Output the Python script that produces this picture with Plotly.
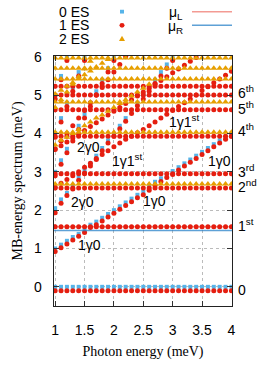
import plotly.graph_objects as go

# ---------------- data ----------------
photon_energy = [1.0, 1.1, 1.2, 1.3, 1.4, 1.5, 1.6, 1.7, 1.8, 1.9, 2.0,
                 2.1, 2.2, 2.3, 2.4, 2.5, 2.6, 2.7, 2.8, 2.9, 3.0,
                 3.1, 3.2, 3.3, 3.4, 3.5, 3.6, 3.7, 3.8, 3.9, 4.0]

# flat many-body levels (meV), present at every photon energy
levels_0es = [0.00]
levels_1es = [-0.10, 1.57, 2.58, 2.95, 3.93, 4.62, 5.00, 5.23]
levels_2es = [2.68, 4.03, 4.82, 5.42, 5.70, 5.97]

# photon-replica branches: values start at photon energy 1.0, step 0.1
branches_0es = {
    "1g0": [1.00, 1.10, 1.20, 1.30, 1.38, 1.47, 1.62, 1.70, 1.80, 1.90, 2.00,
            2.10, 2.20, 2.30, 2.40, 2.48, 2.63, 2.74, 2.83, 2.90, 3.02,
            3.12, 3.22, 3.32, 3.42, 3.52, 3.62, 3.72, 3.82, 3.92, 4.00],
    "2g0": [2.05, 2.28, 2.45, 2.63, 2.85, 3.05, 3.22, 3.42, 3.62, 3.82, 3.98,
            4.20, 4.40, 4.60, 4.80, 5.00, 5.20, 5.40, 5.60, 5.80, 6.00],
    "3g0": [3.00, 3.30, 3.60, 3.90, 4.20, 4.50, 4.80, 5.10, 5.40, 5.70, 6.00],
    "4g0": [4.00, 4.40, 4.80, 5.20, 5.60, 6.00],
    "5g0": [5.00, 5.50, 6.00],
}
branches_1es = {
    "1g0": [0.92, 1.02, 1.12, 1.22, 1.32, 1.42, 1.55, 1.62, 1.72, 1.82, 1.92,
            2.02, 2.12, 2.22, 2.32, 2.40, 2.52, 2.65, 2.75, 2.85, 2.93,
            3.05, 3.15, 3.25, 3.35, 3.45, 3.55, 3.65, 3.75, 3.85, 3.93],
    "2g0": [1.93, 2.18, 2.38, 2.55, 2.78, 2.97, 3.15, 3.35, 3.55, 3.75, 3.93,
            4.12, 4.32, 4.52, 4.72, 4.90, 5.10, 5.30, 5.50, 5.70, 5.90],
    "3g0": [2.90, 3.20, 3.50, 3.80, 4.10, 4.40, 4.70, 5.00, 5.30, 5.60, 5.90],
    "4g0": [3.90, 4.30, 4.70, 5.10, 5.50, 5.90],
    "5g0": [4.90, 5.40, 5.90],
    "1g1st": [2.60, 2.70, 2.80, 2.90, 3.00, 3.12, 3.22, 3.32, 3.45, 3.55, 3.65,
              3.75, 3.85, 3.93, 4.02, 4.10, 4.20, 4.30, 4.40, 4.50, 4.60,
              4.70, 4.80, 4.90, 5.00, 5.12, 5.22, 5.32, 5.42, 5.52, 5.62],
    "1g2nd": [3.58, 3.68, 3.78, 3.88, 3.98, 4.08, 4.18, 4.28, 4.38, 4.48, 4.58,
              4.68, 4.78, 4.88, 4.98, 5.08, 5.18, 5.28, 5.38, 5.48, 5.58,
              5.68, 5.78, 5.88, 5.98],
    "2g1st": [3.60, 3.80, 4.00, 4.20, 4.40, 4.60, 4.80, 5.00, 5.20, 5.40, 5.60,
              5.80, 6.00],
}
branches_2es = {
    "1g2nd": [3.70, 3.82, 3.90, 4.00, 4.10, 4.20, 4.30, 4.40, 4.48, 4.58, 4.68,
              4.78, 4.88, 4.98, 5.08, 5.18, 5.28],
    "2g2nd": [4.68, 4.88, 5.08, 5.28, 5.48, 5.68, 5.88],
    "1g4th": [5.03, 5.13, 5.23, 5.33, 5.43, 5.53, 5.63, 5.73, 5.83, 5.93],
}

mu_L = 1.57
mu_R = 1.47

x_ticks = [1, 1.5, 2, 2.5, 3, 3.5, 4]
x_tick_labels = ["1", "1.5", "2", "2.5", "3", "3.5", "4"]
y_ticks = [0, 1, 2, 3, 4, 5, 6]
y_tick_labels = ["0", "1", "2", "3", "4", "5", "6"]

state_labels = ["0", "1<sup>st</sup>", "2<sup>nd</sup>", "3<sup>rd</sup>",
                "4<sup>th</sup>", "5<sup>th</sup>", "6<sup>th</sup>"]
state_label_y = [-0.07, 1.62, 2.62, 3.02, 4.08, 4.66, 5.08]

branch_labels = ["1γ0", "1γ0", "1γ0", "2γ0", "2γ0",
                 "1γ1<sup>st</sup>", "1γ1<sup>st</sup>"]
branch_label_x = [1.59, 2.69, 3.80, 1.46, 1.56, 2.22, 3.19]
branch_label_y = [1.08, 2.24, 3.29, 2.21, 3.64, 3.30, 4.33]

series_names = ["0 ES", "1 ES", "2 ES"]
mu_names = ["μ<sub>L</sub>", "μ<sub>R</sub>"]

# ---------------- styling ----------------
C_BLUE = "#56b4e9"
C_RED = "#e51e10"
C_ORANGE = "#e69f00"
C_MUL = "rgba(229,30,16,0.45)"
C_MUR = "rgba(40,130,200,0.75)"

W, H = 266, 369
ML, MR, MT, MB = 54, 34, 56, 48
PW, PH = W - ML - MR, H - MT - MB


def px(x):
    return (x - ML) / PW


def py(y):
    return (H - MB - y) / PH


def collect(levels, branches):
    xs, ys = [], []
    for lv in levels:
        xs += photon_energy
        ys += [lv] * len(photon_energy)
    for vals in branches.values():
        xs += photon_energy[:len(vals)]
        ys += vals
    return xs, ys


fig = go.Figure()
for name, (lv, br), col, sym, sz in [
    ("0 ES", (levels_0es, branches_0es), C_BLUE, "square", 4),
    ("1 ES", (levels_1es, branches_1es), C_RED, "circle", 5),
    ("2 ES", (levels_2es, branches_2es), C_ORANGE, "triangle-up", 6),
]:
    xs, ys = collect(lv, br)
    fig.add_trace(go.Scatter(x=xs, y=ys, mode="markers", name=name,
                             marker=dict(color=col, symbol=sym, size=sz,
                                         line=dict(width=0)),
                             showlegend=False, hoverinfo="skip"))

shapes = []
# chemical potential lines across the plot
shapes.append(dict(type="line", xref="paper", yref="y", x0=0, x1=1,
                   y0=mu_L, y1=mu_L, line=dict(color=C_MUL, width=1.5), layer="above"))
shapes.append(dict(type="line", xref="paper", yref="y", x0=0, x1=1,
                   y0=mu_R, y1=mu_R, line=dict(color=C_MUR, width=1.5), layer="above"))

annotations = []
FONT = "Liberation Sans, Arial, sans-serif"
SERIF = "Liberation Serif, Times New Roman, serif"

# custom legend (text then sample, gnuplot style)
leg_y = [9, 23.5, 37.5]
for name, yy in zip(series_names, leg_y):
    annotations.append(dict(xref="paper", yref="paper", x=px(91), y=py(yy),
                            text=name, showarrow=False, xanchor="right",
                            yanchor="middle", font=dict(family=FONT, size=14, color="black")))
# blue square
shapes.append(dict(type="rect", xref="paper", yref="paper",
                   x0=px(120), x1=px(124), y0=py(11), y1=py(7),
                   fillcolor=C_BLUE, line=dict(width=0)))
# red circle
shapes.append(dict(type="circle", xref="paper", yref="paper",
                   x0=px(119.5), x1=px(124.5), y0=py(26), y1=py(21),
                   fillcolor=C_RED, line=dict(width=0)))
# orange triangle
shapes.append(dict(type="path", xref="paper", yref="paper",
                   path=f"M {px(119)},{py(40)} L {px(125)},{py(40)} L {px(122)},{py(34.5)} Z",
                   fillcolor=C_ORANGE, line=dict(width=0)))

mu_y = [9, 23.5]
for name, yy, col in zip(mu_names, mu_y, [C_MUL, C_MUR]):
    annotations.append(dict(xref="paper", yref="paper", x=px(185), y=py(yy + 1.5),
                            text=name, showarrow=False, xanchor="right",
                            yanchor="middle", font=dict(family=FONT, size=14, color="black")))
    shapes.append(dict(type="line", xref="paper", yref="paper",
                       x0=px(192), x1=px(232), y0=py(yy), y1=py(yy),
                       line=dict(color=col, width=1.5)))

# state labels on the right
for t, yv in zip(state_labels, state_label_y):
    annotations.append(dict(xref="paper", yref="y", x=px(236), y=yv, text=t,
                            showarrow=False, xanchor="left", yanchor="middle",
                            width=30, align="left",
                            font=dict(family=FONT, size=14, color="black")))

# branch labels inside the plot
for t, xv, yv in zip(branch_labels, branch_label_x, branch_label_y):
    annotations.append(dict(xref="x", yref="y", x=xv, y=yv, text=t,
                            showarrow=False, xanchor="center", yanchor="middle",
                            font=dict(family=FONT, size=14, color="black")))

axis_common = dict(
    ticks="inside", ticklen=5, tickwidth=1, tickcolor="#333",
    showline=True, linecolor="#222", linewidth=1.3, mirror="allticks",
    showgrid=True, gridcolor="#bbbbbb", griddash="dot", gridwidth=1,
    zeroline=False, tickfont=dict(family=FONT, size=14, color="black"),
)

fig.update_layout(
    width=W, height=H,
    margin=dict(l=ML, r=MR, t=MT, b=MB),
    plot_bgcolor="white", paper_bgcolor="white",
    showlegend=False, hovermode=False,
    shapes=shapes, annotations=annotations,
    xaxis=dict(range=[0.98, 4.01], tickvals=x_ticks, ticktext=x_tick_labels,
               ticklabelstandoff=11,
               title=dict(text="Photon energy (meV)", standoff=9,
                          font=dict(family=SERIF, size=14, color="black")),
               **axis_common),
    yaxis=dict(range=[-0.5, 6.02], tickvals=y_ticks, ticktext=y_tick_labels,
               ticklabelstandoff=8,
               title=dict(text="MB-energy spectrum (meV)", standoff=8,
                          font=dict(family=SERIF, size=14, color="black")),
               **axis_common),
)

fig.write_html(
    "out.html",
    config={"displayModeBar": False, "staticPlot": True},
    post_script="document.body.style.margin='0';document.body.style.overflow='hidden';",
)
